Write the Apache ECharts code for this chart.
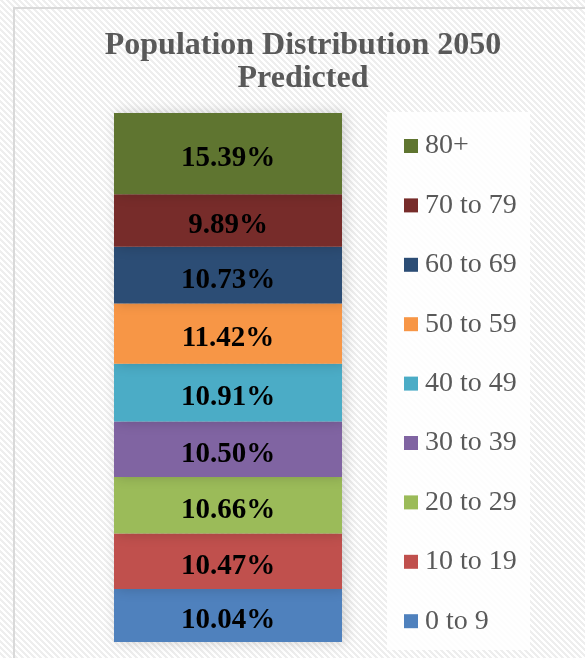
<!DOCTYPE html>
<html>
<head>
<meta charset="utf-8">
<script src="https://cdn.jsdelivr.net/npm/echarts@6/dist/echarts.min.js"></script>
<style>html,body{margin:0;padding:0;background:#fff;}#c{width:585px;height:658px;}</style>
</head>
<body>
<div id="c"></div>
<script>
const categories = ['2050'];
const seriesNames = ['0 to 9','10 to 19','20 to 29','30 to 39','40 to 49','50 to 59','60 to 69','70 to 79','80+'];
const values = [10.04, 10.47, 10.66, 10.50, 10.91, 11.42, 10.73, 9.89, 15.39];
const colors = ['#4f81bd','#c0504d','#9bbb59','#8064a2','#4bacc6','#f79646','#2c4d75','#772c2a','#5f7530'];

// hatch pattern
const pc = document.createElement('canvas');
pc.width = 6; pc.height = 6;
const pctx = pc.getContext('2d');
const img = pctx.createImageData(6, 6);
for (let y = 0; y < 6; y++) for (let x = 0; x < 6; x++) {
  const i = (y * 6 + x) * 4;
  const g = (((x - y) % 6) + 6) % 6 < 3 ? 238 : 255;
  img.data[i] = g; img.data[i+1] = g; img.data[i+2] = g; img.data[i+3] = 255;
}
pctx.putImageData(img, 0, 0);

const chart = echarts.init(document.getElementById('c'));
const series = seriesNames.map((n, k) => ({
  name: n,
  type: 'bar',
  stack: 'total',
  barWidth: '100%',
  data: [values[k]],
  itemStyle: { color: colors[k], shadowBlur: 12, shadowColor: 'rgba(0,0,0,0.18)', shadowOffsetX: 3, shadowOffsetY: 0 },
  label: {
    show: true, position: 'inside',
    formatter: p => p.value.toFixed(2) + '%',
    fontFamily: 'Liberation Serif', fontWeight: 'bold', fontSize: 29, color: '#000',
    offset: [0, 5]
  }
}));

chart.setOption({
  backgroundColor: { image: pc, repeat: 'repeat' },
  animation: false,
  graphic: [
    { type: 'rect', shape: { x: 14, y: 8, width: 600, height: 680 }, style: { fill: 'none', stroke: '#d9d9d9', lineWidth: 2 }, z: 0 },
    { type: 'rect', shape: { x: 387, y: 112, width: 143, height: 538 }, style: { fill: 'rgba(255,255,255,0.85)' }, z: 0 }
  ],
  title: {
    text: 'Population Distribution 2050\nPredicted',
    left: 298, top: 24, textAlign: 'center',
    textStyle: { fontFamily: 'Liberation Serif', fontWeight: 'bold', fontSize: 32, color: '#595959', lineHeight: 33 }
  },
  legend: {
    orient: 'vertical', left: 404, top: 132, padding: 0,
    itemWidth: 14, itemHeight: 14, itemGap: 31.4,
    icon: 'rect',
    data: seriesNames.slice().reverse(),
    textStyle: { fontFamily: 'Liberation Serif', fontSize: 28, color: '#595959', lineHeight: 28, padding: [0,0,0,2] }
  },
  grid: { left: 114, right: 243, top: 113, bottom: 16 },
  xAxis: { type: 'category', data: categories, show: false },
  yAxis: { type: 'value', min: 0, max: 100, show: false },
  series: series
});
</script>
</body>
</html>
